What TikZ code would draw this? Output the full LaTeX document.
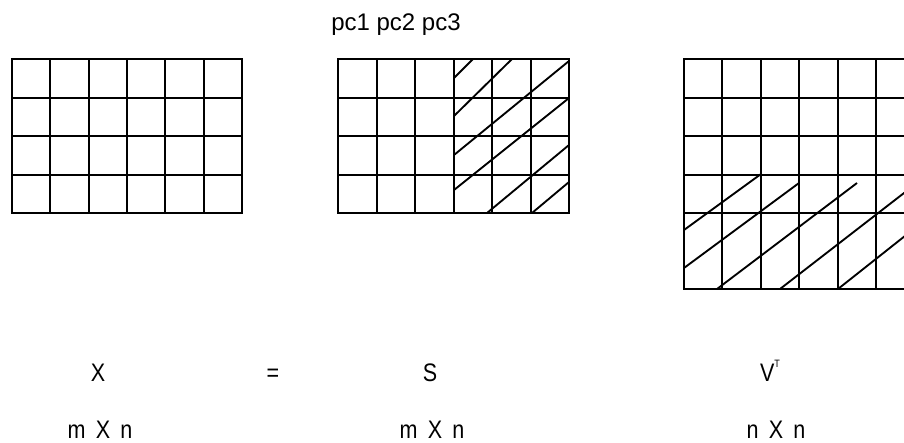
\documentclass[tikz,border=0pt]{standalone}
\usepackage{fontspec}
\setmainfont{Liberation Sans}
\newfontfamily\narrowfont[FakeStretch=0.85]{Liberation Sans}
\newcommand{\widespaces}{\spaceskip 0.4em\relax}
\tikzset{
  cellline/.style={line width=1.5pt, line cap=rect},
  hatch/.style={line width=1.4pt},
  pclabel/.style={font=\fontsize{18}{20}\selectfont, inner sep=0pt, anchor=base},
  dimlabel/.style={font=\narrowfont\fontsize{19}{21}\selectfont\widespaces, inner sep=0pt, anchor=base}
}

\begin{document}
\begin{tikzpicture}[x=0.75pt,y=-0.75pt]
  \useasboundingbox (0,0) rectangle (904,443);
  \clip (0,0) rectangle (904,443);
  % X (4 rows, 6 columns)
  \foreach \c in {0,...,6}
    \draw[cellline] ({12+\c*38.33},59) -- ({12+\c*38.33},213);
  \foreach \r in {0,...,4}
    \draw[cellline] (12,{59+\r*38.5}) -- (242,{59+\r*38.5});
  % S (4 rows, 6 columns)
  \foreach \c in {0,...,6}
    \draw[cellline] ({338+\c*38.5},59) -- ({338+\c*38.5},213);
  \foreach \r in {0,...,4}
    \draw[cellline] (338,{59+\r*38.5}) -- (569,{59+\r*38.5});
  % hatching of pc1..pc3
  \draw[hatch] (454,78) -- (473,59);
  \draw[hatch] (454,116) -- (512,59);
  \draw[hatch] (454,155) -- (569,61);
  \draw[hatch] (454,190) -- (569,98);
  \draw[hatch] (487,213) -- (569,145);
  \draw[hatch] (532,213) -- (569,182);
  % V^T (runs past the right edge)
  \foreach \c in {0,...,6}
    \draw[cellline] ({684+\c*38.4},59) -- ({684+\c*38.4},289);
  \foreach \y in {59,97.5,136,174.5,213,289}
    \draw[cellline] (684,\y) -- (915,\y);
  % hatching of the lower rows
  \draw[hatch] (684,230) -- (761,174);
  \draw[hatch] (684,268) -- (799,183);
  \draw[hatch] (717,289) -- (857,183);
  \draw[hatch] (780,289) -- (915,184.5);
  \draw[hatch] (838,289) -- (915,228);
  % labels
  \node[pclabel] (pcs) at (396,30) {pc1 pc2 pc3};
  \node[dimlabel] (X) at (98,381) {X};
  \node[dimlabel] (eq) at (273,381) {=};
  \node[dimlabel] (S) at (430,381) {S};
  \node[dimlabel] (VT) at (770,381) {V\raisebox{0.55em}{\fontsize{8}{9}\selectfont T}};
  \node[dimlabel] (Xsize) at (100,438) {m X n};
  \node[dimlabel] (Ssize) at (432,438) {m X n};
  \node[dimlabel] (VTsize) at (776,438) {n X n};
\end{tikzpicture}
\end{document}
